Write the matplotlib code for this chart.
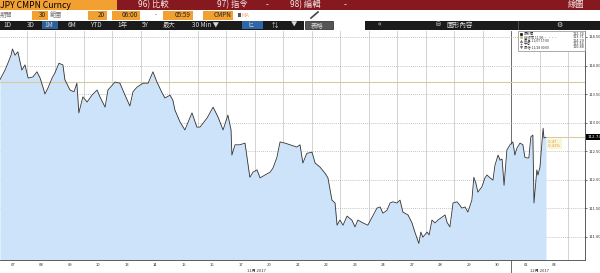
import matplotlib
matplotlib.use('Agg')
import matplotlib.pyplot as plt
import matplotlib.transforms as mtransforms
from matplotlib.patches import Rectangle

plt.rcParams['font.family'] = ['Noto Sans CJK TC', 'DejaVu Sans']

# trading sessions since 07 Nov 06:00 (1 = one session) and USDJPY price
t_days = [0.05, 0.23, 0.33, 0.44, 0.49, 0.58, 0.68, 0.82, 0.93, 1.04,
          1.21, 1.35, 1.46, 1.56, 1.63, 1.74, 1.88, 1.98, 2.12, 2.26,
          2.33, 2.51, 2.65, 2.75, 2.82, 2.96, 3.11, 3.28, 3.46, 3.56,
          3.74, 3.84, 4.09, 4.26, 4.44, 4.61, 4.72, 4.86, 5.07, 5.25,
          5.42, 5.56, 5.74, 5.84, 6.02, 6.12, 6.19, 6.37, 6.54, 6.79,
          6.96, 7.07, 7.32, 7.53, 7.70, 7.88, 8.05, 8.16, 8.19, 8.30,
          8.47, 8.65, 8.72, 8.82, 8.93, 9.07, 9.18, 9.35, 9.53, 9.63,
          9.77, 9.88, 10.05, 10.23, 10.47, 10.58, 10.68, 10.82, 11.00, 11.11,
          11.28, 11.46, 11.56, 11.70, 11.81, 11.88, 11.98, 12.09, 12.23, 12.40,
          12.51, 12.61, 12.79, 12.96, 13.11, 13.28, 13.39, 13.49, 13.63, 13.74,
          13.84, 13.98, 14.09, 14.19, 14.37, 14.51, 14.61, 14.75, 14.82, 14.89,
          15.04, 15.11, 15.21, 15.32, 15.42, 15.56, 15.67, 15.74, 15.84, 15.95,
          16.09, 16.19, 16.26, 16.37, 16.47, 16.61, 16.68, 16.75, 16.82, 16.96,
          17.07, 17.14, 17.25, 17.35, 17.42, 17.53, 17.60, 17.67, 17.74, 17.84,
          17.95, 18.05, 18.12, 18.19, 18.30, 18.40, 18.47, 18.54, 18.61, 18.68,
          18.75, 18.79, 18.89, 18.93, 19.00, 19.11, 19.14, 19.21]
price = [113.75, 113.92, 114.04, 114.18, 114.29, 114.18, 114.24, 113.92, 114.01, 113.78,
         113.80, 113.89, 113.78, 113.62, 113.50, 113.61, 113.78, 113.87, 114.04, 114.01,
         113.75, 113.57, 113.54, 113.69, 113.17, 113.45, 113.36, 113.48, 113.57, 113.45,
         113.27, 113.57, 113.71, 113.69, 113.48, 113.29, 113.54, 113.62, 113.69, 113.69,
         113.89, 113.71, 113.52, 113.43, 113.48, 113.39, 113.22, 113.01, 112.87, 113.17,
         112.92, 112.92, 113.08, 113.27, 113.10, 112.87, 113.13, 112.87, 112.43, 112.61,
         112.61, 112.64, 112.39, 112.04, 112.13, 112.17, 112.03, 112.08, 112.13, 112.20,
         112.39, 112.66, 112.64, 112.61, 112.57, 112.61, 112.29, 112.46, 112.48, 112.29,
         112.22, 112.11, 112.03, 111.64, 111.59, 111.20, 111.29, 111.20, 111.36, 111.29,
         111.17, 111.29, 111.24, 111.20, 111.34, 111.50, 111.52, 111.41, 111.46, 111.59,
         111.61, 111.59, 111.64, 111.43, 111.38, 111.24, 111.08, 110.88, 111.08, 110.99,
         111.08, 111.03, 111.29, 111.24, 111.29, 111.34, 111.38, 111.25, 111.17, 111.59,
         111.61, 111.55, 111.50, 111.52, 111.43, 111.64, 112.04, 111.94, 111.78, 111.87,
         112.03, 112.08, 112.03, 111.99, 112.25, 112.43, 112.34, 112.36, 111.90, 112.52,
         112.61, 112.66, 112.43, 112.55, 112.64, 112.61, 112.39, 112.38, 112.38, 112.75,
         112.78, 111.59, 112.17, 112.08, 112.22, 112.90, 112.73, 112.74]

day_labels = ['07', '08', '09', '10', '13', '14', '15', '16', '17', '20',
              '21', '22', '23', '24', '27', '28', '29', '30', '01', '04']
month_labels = ['11月 2017', '12月 2017']
month_start = 18  # session index of 01 Dec
y_ticks = [111.0, 111.5, 112.0, 112.5, 113.0, 113.5, 114.0, 114.5]

prev_close = 113.71
last_px = 112.74
legend_rows = [('最新價', '112.74'),
               ('前收市 11/06 ····', '113.71'),
               ('最高 11/07 17:00', '114.29'),
               ('平均', '112.56'),
               ('最低 11/28 00:00', '110.88')]
chg_text = '-0.47\n-0.41%'

W, H = 600, 273
fig = plt.figure(figsize=(W / 100, H / 100), dpi=100)
fig.patch.set_facecolor('white')

# ---- price chart ----
x0, x1 = 0.053, 20.58
y0, y1 = 110.59, 114.605
ax = fig.add_axes([0, 13 / H, 585 / W, 229 / H])
ax.set_xlim(x0, x1)
ax.set_ylim(y0, y1)

for k in range(1, 21):
    if k == month_start:
        ax.axvline(k, ymin=-0.06, ymax=1, color='#555555', lw=0.6, clip_on=False, zorder=1)
    else:
        ax.axvline(k, color='#cccccc', lw=0.6, zorder=1)
for y in y_ticks:
    ax.axhline(y, color='#b0b0b0', lw=0.6, ls=(0, (1, 1.5)), zorder=1)

ax.fill_between(t_days, price, y0, color='#cde3fa', lw=0, zorder=2)
ax.plot(t_days, price, color='#333333', lw=0.6, zorder=3)

ax.axhline(prev_close, color='#d8cba3', lw=0.8, zorder=2)
ax.hlines(last_px, t_days[-1], x1, color='#d8cba3', lw=0.8, zorder=2)

ax.text(t_days[-1] + 0.08, last_px - 0.04, chg_text, fontsize=2.6, color='#d49a3a',
        va='top', ha='left', linespacing=1.1, family=['DejaVu Sans'],
        bbox=dict(boxstyle='round,pad=0.3', fc='#fbf3c8', ec='none', alpha=0.8), zorder=4)

ax.yaxis.tick_right()
ax.set_yticks(y_ticks)
ax.set_yticklabels(['%.2f' % v for v in y_ticks])
ax.tick_params(axis='y', labelsize=3, length=1.5, width=0.5, pad=1, colors='#333333')

ax.set_xticks(range(1, 21))
ax.set_xticklabels([])
ax.set_xticks([k + 0.5 for k in range(20)], minor=True)
ax.set_xticklabels(day_labels, minor=True)
ax.tick_params(axis='x', which='both', length=0, labelsize=3, pad=2, colors='#333333')

for s in ['top', 'left']:
    ax.spines[s].set_visible(False)
for s in ['right', 'bottom']:
    ax.spines[s].set_color('#444444')
    ax.spines[s].set_linewidth(0.6)

trans = mtransforms.blended_transform_factory(ax.transData, ax.transAxes)
ax.text(9.04, -0.04, month_labels[0], transform=trans, fontsize=3, ha='center', va='top', color='#333333')
ax.text(19.0, -0.04, month_labels[1], transform=trans, fontsize=3, ha='center', va='top', color='#333333')

transy = mtransforms.blended_transform_factory(ax.transAxes, ax.transData)
ax.text(1.004, last_px, '%.2f' % last_px, transform=transy, fontsize=3, color='white',
        ha='left', va='center', family=['DejaVu Sans'],
        bbox=dict(boxstyle='square,pad=0.25', fc='black', ec='none'), zorder=5)

# ---- overlay in pixel coordinates: header bars and legend ----
ui = fig.add_axes([0, 0, 1, 1], facecolor='none')
ui.set_xlim(0, W)
ui.set_ylim(H, 0)
ui.axis('off')

def box(x, y, w, h, c, ec='none'):
    ui.add_patch(Rectangle((x, y), w, h, fc=c, ec=ec, lw=0.5))

def txt(x, y, s, c, size=4.5, ha='left', **kw):
    ui.text(x, y, s, color=c, fontsize=size, ha=ha, va='center', **kw)

orange = '#f3a033'
# row 1
box(0, 0, 117, 10, orange)
box(117, 0, 483, 10, '#86181f')
txt(0, 5, 'JPY CMPN Curncy', 'black', 6.2)
for x, s in [(138, '96) 比較'), (217, '97) 指令'), (266, '-'), (290, '98) 編輯'),
             (344, '-'), (568, '線圖')]:
    txt(x, 5, s, '#f2e6e6', 6)

# row 2
box(0, 10, W, 10, 'white')
txt(0, 15.2, '期間', '#777777', 4.5)
txt(50, 15.2, '範圍', '#777777', 4.5)
txt(155, 15.2, '-', '#555555', 4.5)
for bx, bw, s in [(32, 16, '30'), (88, 19, '20'), (112, 28, '06:00'),
                  (163, 30, '05:59'), (203, 30, 'CMPN')]:
    box(bx, 11, bw, 8.5, orange)
    txt(bx + bw - 2, 15.2, s, '#222222', 4.6, ha='right')
box(238, 13, 3, 3.5, '#555555')
txt(242, 15.2, 'MA', '#e8b070', 4)
ui.plot([311, 318], [18, 12], color='#444444', lw=1.2)

# row 3
box(0, 20.5, 304, 9, '#1b1b1b')
box(42, 21, 16, 8, '#2e5f98')
box(242, 21, 21, 8, '#2e66a8')
for x, s in [(3, '1D'), (27, '3D'), (44, '1M'), (68, '6M'), (90, 'YTD'), (117, '1年'),
             (142, '5Y'), (163, '最大'), (192, '30 Min ▼'), (248, 'ヒ'), (272, '⇅'), (291, '▼')]:
    txt(x, 25, s, '#d8d8d8', 4.6)
box(305, 21, 28, 8, '#555555', ec='#222222')
txt(311, 25, '表格', '#dddddd', 4.6)
box(365, 20.5, 235, 9, '#1b1b1b')
ui.plot([518, 518], [21, 29], color='#555555', lw=0.6)
txt(378, 25, '«', '#d8d8d8', 5.5)
txt(436, 25, '⛁', '#d8d8d8', 4.2, family=['DejaVu Sans'])
txt(446, 25, '圖形內容', '#d8d8d8', 4.8)
txt(556, 25, '⚙', '#d8d8d8', 5, family=['DejaVu Sans'])

# legend box
box(518, 31, 67, 19.5, 'white', ec='#888888')
icons = [('s', 'black'), ('s', '#c9b36a'), ('^', '#666666'), ('+', '#666666'), ('v', '#666666')]
for i, ((lab, val), (m, c)) in enumerate(zip(legend_rows, icons)):
    yy = 34 + i * 3.35
    ui.plot([521], [yy], marker=m, ms=1.6, color=c, mew=0.4)
    txt(523.5, yy, lab, '#333333', 2.4)
    txt(584, yy, val, '#333333', 2.4, ha='right', family=['DejaVu Sans'])

fig.savefig('out.png', dpi=100, facecolor='white')
